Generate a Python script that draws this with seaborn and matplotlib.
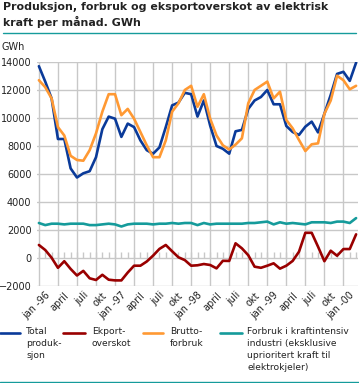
import numpy as np
import pandas as pd
import matplotlib
matplotlib.use("Agg")
import matplotlib.pyplot as plt
import matplotlib.transforms as mtransforms
from matplotlib.lines import Line2D
import seaborn as sns

# monthly values, jan 1996 .. mar 2000 (GWh)
months = list(range(51))

produksjon = [13700, 12600, 11400, 8500, 8500, 6400, 5750, 6050, 6200, 7200, 9200, 10100,
              9950, 8650, 9600, 9350, 8400, 7700, 7450, 7900, 9350, 10900, 11100, 11800,
              11700, 10100, 11250, 9450, 8000, 7800, 7450, 9050, 9150, 10650, 11250, 11500,
              12000, 10980, 10980, 9430, 9000, 8790, 9380, 9740, 8970, 10300, 11650, 13150,
              13300, 12650, 13950]

eksport = [930, 570, 20, -700, -230, -780, -1250, -920, -1450, -1570, -1200, -1550,
           -1600, -1600, -1040, -550, -550, -250, 170, 650, 930, 480, 50, -150,
           -550, -520, -430, -500, -740, -200, -210, 1050, 690, 200, -620, -700,
           -550, -380, -760, -550, -210, 450, 1800, 1800, 810, -230, 520, 160,
           640, 640, 1690]

brutto = [12700, 12200, 11400, 9350, 8750, 7300, 7000, 6950, 7700, 8900, 10450, 11700,
          11700, 10200, 10650, 9950, 9000, 8050, 7200, 7200, 8400, 10450, 11050, 12000,
          12300, 10800, 11700, 9950, 8750, 8050, 7750, 8100, 8550, 11050, 12000, 12300,
          12600, 11400, 11880, 9860, 9260, 8430, 7640, 8120, 8190, 10300, 11250, 13020,
          12700, 12050, 12300]

kraftintensiv = [2500, 2350, 2450, 2450, 2400, 2450, 2450, 2450, 2350, 2350, 2400, 2450,
                 2400, 2250, 2400, 2450, 2450, 2450, 2400, 2450, 2450, 2500, 2450, 2500,
                 2500, 2350, 2500, 2400, 2450, 2450, 2450, 2450, 2450, 2500, 2500, 2550,
                 2600, 2400, 2550, 2450, 2500, 2450, 2400, 2550, 2550, 2550, 2500, 2600,
                 2600, 2500, 2850]

tick_pos = list(range(0, 49, 3))
tick_labels = ["jan -96", "april", "juli", "okt",
               "jan -97", "april", "juli", "okt",
               "jan -98", "april", "juli", "okt",
               "jan -99", "april", "juli", "okt",
               "jan -00"]

series = ["Total produksjon", "Ekportoverskot", "Bruttoforbruk", "Kraftintensiv"]
colors = ["#0a3a99", "#990000", "#ff9933", "#159b9b"]
legend_texts = ["Total\nproduk-\nsjon", "Ekport-\noverskot", "Brutto-\nforbruk",
                "Forbruk i kraftintensiv\nindustri (eksklusive\nuprioritert kraft til\nelektrokjeler)"]

df = pd.concat([
    pd.DataFrame({"month": months, "GWh": vals, "serie": name})
    for name, vals in zip(series, [produksjon, eksport, brutto, kraftintensiv])
])

sns.set_style("white")
plt.rcParams["font.family"] = ["DejaVu Sans"]

W, H = 359, 383
fig = plt.figure(figsize=(W / 100, H / 100), dpi=100)
ax = fig.add_axes([37 / W, 1 - 286 / H, (358 - 37) / W, (286 - 62) / H])

grid_c = "#c8c8c8"
sns.lineplot(data=df, x="month", y="GWh", hue="serie", hue_order=series,
             palette=colors, legend=False, lw=1.9, ax=ax)

ax.set_xlim(-0.3, 50.3)
ax.set_ylim(-2000, 14000)
ax.set_yticks(range(-2000, 14001, 2000))
ax.set_xticks(tick_pos)
ax.set_xticklabels(tick_labels, rotation=45, ha="right", va="top", rotation_mode="anchor")
ax.grid(True, color=grid_c, lw=1.0)
ax.set_axisbelow(True)
for s in ax.spines.values():
    s.set_visible(False)
ax.tick_params(length=0, labelsize=7, colors="#222222")
ax.tick_params(axis="y", pad=4)
ax.tick_params(axis="x", pad=3)
ax.set_xlabel("")
ax.set_ylabel("")

# small month ticks along the zero line
ax.vlines(months, 0, 430, color=grid_c, lw=1.0, zorder=0)

offset = mtransforms.ScaledTranslation(0.06, 0, fig.dpi_scale_trans)
for lab in ax.get_xticklabels():
    lab.set_transform(lab.get_transform() + offset)

fig.text(2 / W, 1 - 47 / H, "GWh", fontsize=7, va="center", ha="left", color="#222222")

fig.text(3 / W, 1 - 2 / H,
         "Produksjon, forbruk og eksportoverskot av elektrisk\nkraft per månad. GWh",
         fontsize=7.9, fontweight="bold", va="top", ha="left", color="#222222",
         linespacing=1.35)
fig.add_artist(Line2D([3 / W, 356 / W], [1 - 33 / H, 1 - 33 / H], color="#159b9b", lw=1.0,
                      transform=fig.transFigure))
fig.add_artist(Line2D([0, 359 / W], [1 - 381.5 / H, 1 - 381.5 / H], color="#159b9b", lw=1.0,
                      transform=fig.transFigure))

# legend drawn by hand
handle_x = [(0, 20), (63, 85), (143, 163), (220, 242)]
text_x = [26, 92, 170, 247]
for (x0, x1), tx, c, t in zip(handle_x, text_x, colors, legend_texts):
    fig.add_artist(Line2D([x0 / W, x1 / W], [1 - 333 / H, 1 - 333 / H], color=c, lw=1.9,
                          transform=fig.transFigure))
    fig.text(tx / W, 1 - 327 / H, t, fontsize=6.6, va="top", ha="left", color="#222222",
             linespacing=1.45)

fig.savefig("out.png", dpi=100)
